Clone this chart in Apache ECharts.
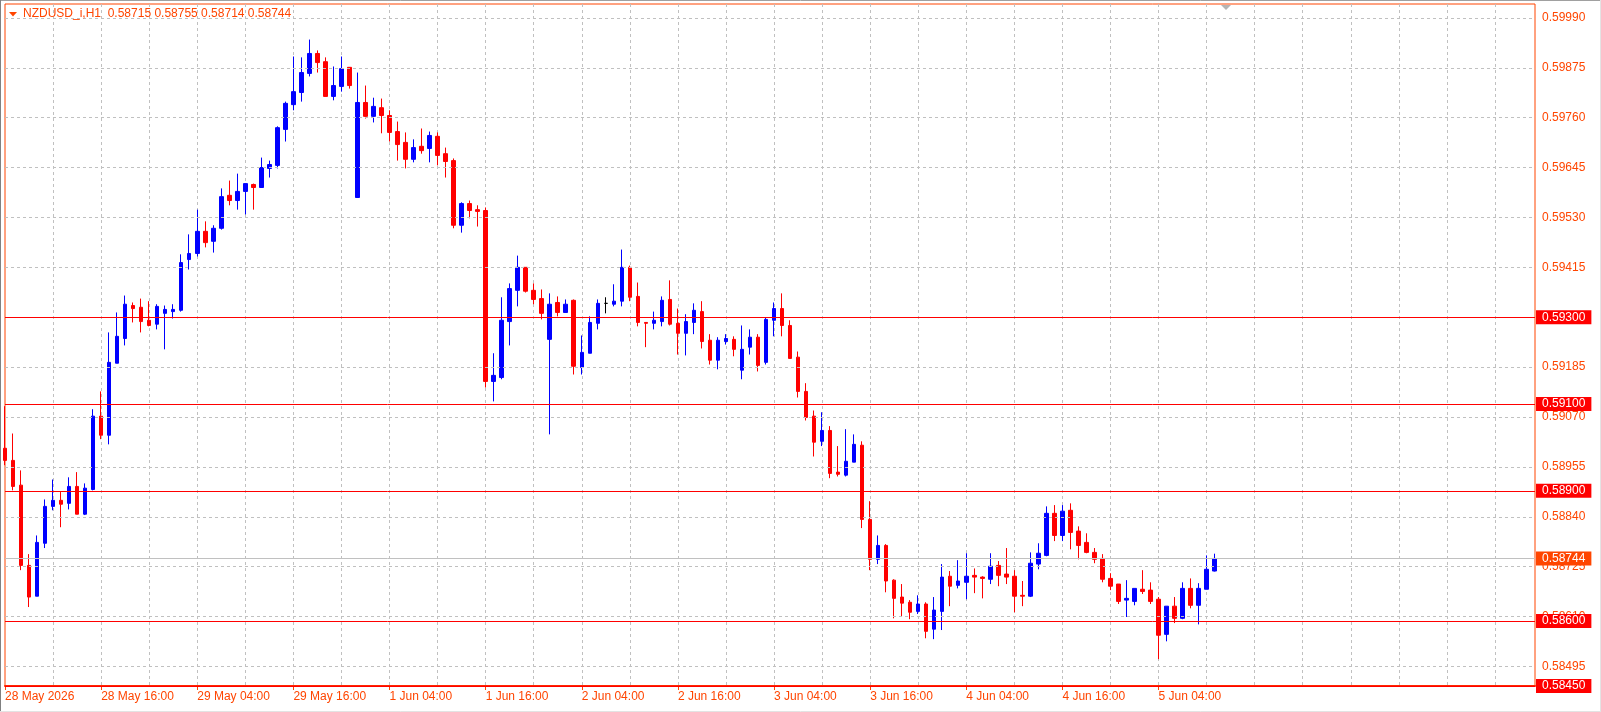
<!DOCTYPE html>
<html>
<head>
<meta charset="utf-8">
<title>NZDUSD_i,H1</title>
<script src="https://cdn.jsdelivr.net/npm/echarts@6/dist/echarts.min.js"></script>
<style>
html, body { margin: 0; padding: 0; background: #fff; }
#chart { width: 1601px; height: 712px; }
</style>
</head>
<body>
<div id="chart"></div>
<script>
// hourly bars, 28 May 2026 04:00 .. 5 Jun 2026 11:00
var opens = [
  0.58998, 0.58970, 0.58913, 0.58728, 0.58657, 0.58779, 0.58864, 0.58878, 0.58871, 0.58910,
  0.58846, 0.58903, 0.59072, 0.59028, 0.59194, 0.59251, 0.59327, 0.59323, 0.59293, 0.59284,
  0.59309, 0.59313, 0.59316, 0.59433, 0.59447, 0.59498, 0.59475, 0.59505, 0.59581, 0.59569,
  0.59590, 0.59606, 0.59599, 0.59643, 0.59650, 0.59733, 0.59790, 0.59818, 0.59862, 0.59908,
  0.59889, 0.59809, 0.59832, 0.59876, 0.59576, 0.59795, 0.59763, 0.59783, 0.59765, 0.59728,
  0.59703, 0.59664, 0.59694, 0.59689, 0.59717, 0.59677, 0.59661, 0.59512, 0.59562, 0.59548,
  0.59546, 0.59152, 0.59161, 0.59290, 0.59362, 0.59415, 0.59362, 0.59343, 0.59249, 0.59334,
  0.59311, 0.59339, 0.59184, 0.59217, 0.59286, 0.59332, 0.59330, 0.59337, 0.59415, 0.59348,
  0.59288, 0.59286, 0.59290, 0.59341, 0.59286, 0.59263, 0.59288, 0.59313, 0.59247, 0.59201,
  0.59244, 0.59249, 0.59178, 0.59231, 0.59254, 0.59196, 0.59293, 0.59320, 0.59281, 0.59208,
  0.59129, 0.59072, 0.59014, 0.59039, 0.58943, 0.58936, 0.58966, 0.59005, 0.58834, 0.58742,
  0.58774, 0.58694, 0.58655, 0.58643, 0.58622, 0.58639, 0.58581, 0.58622, 0.58703, 0.58682,
  0.58689, 0.58705, 0.58701, 0.58696, 0.58728, 0.58708, 0.58703, 0.58659, 0.58657, 0.58731,
  0.58751, 0.58848, 0.58797, 0.58855, 0.58807, 0.58781, 0.58758, 0.58744, 0.58698, 0.58685,
  0.58648, 0.58645, 0.58673, 0.58671, 0.58650, 0.58569, 0.58634, 0.58606, 0.58675, 0.58636,
  0.58673, 0.58715
];
var highs = [
  0.59095, 0.59032, 0.58947, 0.58754, 0.58797, 0.58880, 0.58926, 0.58897, 0.58931, 0.58943,
  0.58917, 0.59088, 0.59129, 0.59265, 0.59311, 0.59350, 0.59334, 0.59343, 0.59337, 0.59330,
  0.59327, 0.59330, 0.59445, 0.59491, 0.59548, 0.59521, 0.59512, 0.59597, 0.59615, 0.59631,
  0.59608, 0.59608, 0.59668, 0.59661, 0.59740, 0.59797, 0.59901, 0.59899, 0.59940, 0.59915,
  0.59899, 0.59878, 0.59901, 0.59876, 0.59864, 0.59834, 0.59806, 0.59804, 0.59777, 0.59751,
  0.59726, 0.59710, 0.59735, 0.59728, 0.59726, 0.59691, 0.59666, 0.59565, 0.59569, 0.59558,
  0.59553, 0.59217, 0.59346, 0.59378, 0.59442, 0.59415, 0.59378, 0.59364, 0.59355, 0.59348,
  0.59341, 0.59341, 0.59258, 0.59302, 0.59341, 0.59346, 0.59376, 0.59456, 0.59419, 0.59380,
  0.59288, 0.59313, 0.59348, 0.59385, 0.59320, 0.59307, 0.59332, 0.59337, 0.59261, 0.59254,
  0.59261, 0.59256, 0.59281, 0.59272, 0.59261, 0.59300, 0.59334, 0.59355, 0.59293, 0.59221,
  0.59148, 0.59085, 0.59081, 0.59049, 0.59003, 0.59042, 0.59030, 0.59014, 0.58876, 0.58797,
  0.58777, 0.58696, 0.58685, 0.58648, 0.58659, 0.58643, 0.58655, 0.58731, 0.58715, 0.58740,
  0.58756, 0.58721, 0.58703, 0.58756, 0.58738, 0.58768, 0.58717, 0.58692, 0.58758, 0.58779,
  0.58864, 0.58867, 0.58867, 0.58871, 0.58818, 0.58802, 0.58768, 0.58754, 0.58710, 0.58685,
  0.58694, 0.58675, 0.58717, 0.58689, 0.58655, 0.58634, 0.58655, 0.58689, 0.58698, 0.58687,
  0.58751, 0.58755
];
var lows = [
  0.58959, 0.58901, 0.58717, 0.58632, 0.58657, 0.58768, 0.58855, 0.58816, 0.58857, 0.58846,
  0.58844, 0.58901, 0.59019, 0.59007, 0.59194, 0.59235, 0.59288, 0.59265, 0.59279, 0.59272,
  0.59226, 0.59297, 0.59313, 0.59410, 0.59440, 0.59461, 0.59449, 0.59502, 0.59558, 0.59548,
  0.59537, 0.59548, 0.59599, 0.59622, 0.59643, 0.59705, 0.59777, 0.59797, 0.59855, 0.59864,
  0.59809, 0.59800, 0.59820, 0.59827, 0.59576, 0.59758, 0.59749, 0.59724, 0.59705, 0.59661,
  0.59643, 0.59657, 0.59677, 0.59657, 0.59650, 0.59622, 0.59505, 0.59495, 0.59528, 0.59509,
  0.59138, 0.59106, 0.59157, 0.59235, 0.59325, 0.59357, 0.59330, 0.59295, 0.59030, 0.59302,
  0.59311, 0.59168, 0.59168, 0.59217, 0.59272, 0.59309, 0.59325, 0.59325, 0.59337, 0.59279,
  0.59231, 0.59272, 0.59279, 0.59281, 0.59214, 0.59212, 0.59261, 0.59228, 0.59191, 0.59180,
  0.59237, 0.59210, 0.59157, 0.59214, 0.59175, 0.59191, 0.59256, 0.59256, 0.59205, 0.59115,
  0.59062, 0.58979, 0.59003, 0.58929, 0.58933, 0.58933, 0.58966, 0.58814, 0.58717, 0.58731,
  0.58666, 0.58606, 0.58609, 0.58604, 0.58616, 0.58560, 0.58558, 0.58579, 0.58634, 0.58675,
  0.58650, 0.58664, 0.58652, 0.58685, 0.58680, 0.58685, 0.58620, 0.58634, 0.58655, 0.58719,
  0.58749, 0.58784, 0.58784, 0.58765, 0.58742, 0.58756, 0.58733, 0.58689, 0.58671, 0.58639,
  0.58609, 0.58636, 0.58662, 0.58639, 0.58512, 0.58553, 0.58595, 0.58604, 0.58629, 0.58592,
  0.58673, 0.58714
];
var closes = [
  0.58970, 0.58910, 0.58728, 0.58655, 0.58781, 0.58864, 0.58878, 0.58869, 0.58910, 0.58846,
  0.58906, 0.59072, 0.59028, 0.59196, 0.59256, 0.59330, 0.59320, 0.59290, 0.59281, 0.59325,
  0.59318, 0.59318, 0.59426, 0.59447, 0.59498, 0.59472, 0.59505, 0.59578, 0.59569, 0.59590,
  0.59608, 0.59599, 0.59645, 0.59652, 0.59737, 0.59793, 0.59820, 0.59864, 0.59908, 0.59887,
  0.59809, 0.59834, 0.59873, 0.59834, 0.59795, 0.59763, 0.59786, 0.59765, 0.59726, 0.59698,
  0.59664, 0.59691, 0.59684, 0.59719, 0.59673, 0.59659, 0.59512, 0.59562, 0.59546, 0.59544,
  0.59152, 0.59166, 0.59293, 0.59366, 0.59415, 0.59360, 0.59341, 0.59309, 0.59330, 0.59311,
  0.59330, 0.59187, 0.59219, 0.59288, 0.59332, 0.59332, 0.59337, 0.59415, 0.59346, 0.59288,
  0.59286, 0.59293, 0.59339, 0.59284, 0.59263, 0.59290, 0.59316, 0.59244, 0.59201, 0.59247,
  0.59251, 0.59226, 0.59226, 0.59254, 0.59189, 0.59295, 0.59320, 0.59281, 0.59205, 0.59129,
  0.59069, 0.59012, 0.59039, 0.58940, 0.58938, 0.58968, 0.59007, 0.58834, 0.58742, 0.58774,
  0.58692, 0.58652, 0.58641, 0.58620, 0.58639, 0.58576, 0.58625, 0.58701, 0.58680, 0.58692,
  0.58703, 0.58701, 0.58698, 0.58726, 0.58705, 0.58701, 0.58657, 0.58657, 0.58733, 0.58756,
  0.58848, 0.58797, 0.58853, 0.58804, 0.58774, 0.58758, 0.58742, 0.58696, 0.58680, 0.58645,
  0.58652, 0.58675, 0.58668, 0.58645, 0.58567, 0.58634, 0.58606, 0.58675, 0.58636, 0.58675,
  0.58719, 0.58744
];

var tickLabels = [
  '28 May 2026', '28 May 16:00', '29 May 04:00', '29 May 16:00', '1 Jun 04:00',
  '1 Jun 16:00', '2 Jun 04:00', '2 Jun 16:00', '3 Jun 04:00', '3 Jun 16:00',
  '4 Jun 04:00', '4 Jun 16:00', '5 Jun 04:00'
];
var priceTicks = [
  0.58495, 0.58610, 0.58725, 0.58840, 0.58955, 0.59070, 0.59185,
  0.59300, 0.59415, 0.59530, 0.59645, 0.59760, 0.59875, 0.59990
];
var levels = [0.59300, 0.59100, 0.58900, 0.58600, 0.58450];

var symbolName = 'NZDUSD_i,H1';
var slotCount = 192;          // visible hourly slots incl. empty right shift
var priceMin = 0.58450;
var priceMax = 0.60022;

var axisColor = '#FF4500';
var fontFamily = '"Liberation Sans", Arial, sans-serif';

// hourly categories, weekend skipped (MT4 style)
var months = ['Jan','Feb','Mar','Apr','May','Jun','Jul','Aug','Sep','Oct','Nov','Dec'];
var categories = [];
var t = Date.UTC(2026, 4, 28, 4);
while (categories.length < slotCount) {
  var d = new Date(t);
  var wd = d.getUTCDay();
  if (wd !== 0 && wd !== 6) {
    var hh = ('0' + d.getUTCHours()).slice(-2);
    categories.push(d.getUTCDate() + ' ' + months[d.getUTCMonth()] + ' ' + hh + ':00');
  }
  t += 3600000;
}

var candleData = [];
for (var i = 0; i < opens.length; i++) {
  var item = { value: [opens[i], closes[i], lows[i], highs[i]] };
  if (opens[i] === closes[i]) {
    item.itemStyle = { borderColor: '#000000', borderColor0: '#000000' };
  }
  candleData.push(item);
}

var last = opens.length - 1;
var header = symbolName + '  ' + opens[last].toFixed(5) + ' ' + highs[last].toFixed(5) +
  ' ' + lows[last].toFixed(5) + ' ' + closes[last].toFixed(5);

function priceLabel(v, bg) {
  var lab = {
    show: true, position: 'end', formatter: v.toFixed(5), fontSize: 12, fontFamily: fontFamily,
    distance: 1, padding: [1, 6, 1, 6], lineHeight: 12
  };
  if (bg) { lab.color = '#FFFFFF'; lab.backgroundColor = bg; }
  else { lab.color = axisColor; }
  return lab;
}

var gridMarks = priceTicks.map(function (v) {
  return { yAxis: v, lineStyle: { color: '#C0C0C0', width: 1, type: [3, 3] }, label: priceLabel(v) };
});
var levelMarks = levels.map(function (v) {
  return { yAxis: v, lineStyle: { color: '#FF0000', width: 1, type: 'solid' }, label: priceLabel(v, '#FF0000') };
});
var priceMark = {
  yAxis: closes[last], lineStyle: { color: '#C0C0C0', width: 1, type: 'solid' },
  label: priceLabel(closes[last], '#FF4500')
};

var chart = echarts.init(document.getElementById('chart'));
chart.setOption({
  animation: false,
  backgroundColor: '#FFFFFF',
  title: {
    text: header, left: 23, top: 8, padding: 0,
    textStyle: { color: axisColor, fontSize: 12, fontWeight: 'normal', fontFamily: fontFamily }
  },
  graphic: [
    { type: 'polygon', shape: { points: [[9, 12], [17, 12], [13, 16.5]] }, style: { fill: axisColor }, silent: true },
    { type: 'polygon', shape: { points: [[1221, 5], [1231, 5], [1226, 10]] }, style: { fill: '#B4B4B4' }, silent: true },
    { type: 'line', shape: { x1: 0, y1: 0.5, x2: 1601, y2: 0.5 }, style: { stroke: '#A0A0A0', lineWidth: 1 }, silent: true },
    { type: 'line', shape: { x1: 0.5, y1: 0, x2: 0.5, y2: 712 }, style: { stroke: '#808080', lineWidth: 1 }, silent: true },
    { type: 'line', shape: { x1: 0, y1: 711.5, x2: 1601, y2: 711.5 }, style: { stroke: '#E3E3E3', lineWidth: 1 }, silent: true },
    { type: 'line', shape: { x1: 1600.5, y1: 0, x2: 1600.5, y2: 712 }, style: { stroke: '#E3E3E3', lineWidth: 1 }, silent: true }
  ],
  grid: {
    left: 5, right: 66, top: 4, bottom: 26,
    show: true, borderColor: axisColor, borderWidth: 1, backgroundColor: 'transparent'
  },
  xAxis: {
    type: 'category',
    data: categories,
    boundaryGap: false,
    axisLine: { show: true, lineStyle: { color: '#FF2800', width: 2 } },
    axisTick: {
      show: true, length: 4, lineStyle: { color: axisColor },
      interval: function (index) { return index % 12 === 0 && index / 12 < tickLabels.length; }
    },
    axisLabel: {
      color: axisColor, fontSize: 12, fontFamily: fontFamily, align: 'left', margin: 5,
      interval: function (index) { return index % 12 === 0 && index / 12 < tickLabels.length; },
      formatter: function (value, index) { return tickLabels[index / 12] || ''; }
    },
    splitLine: {
      show: true, lineStyle: { color: '#C0C0C0', width: 1, type: [3, 3] },
      interval: function (index) { return index > 0 && index % 6 === 0; }
    }
  },
  yAxis: {
    type: 'value',
    position: 'right',
    min: priceMin,
    max: priceMax,
    axisLine: { show: false },
    axisTick: { show: false },
    axisLabel: { show: false },
    splitLine: { show: false }
  },
  series: [
    {
      type: 'line',
      name: 'levels',
      data: [],
      z: 1,
      silent: true,
      markLine: {
        silent: true,
        precision: 5,
        symbol: ['none', 'none'],
        animation: false,
        data: gridMarks.concat(levelMarks, [priceMark])
      }
    },
    {
      type: 'candlestick',
      z: 3,
      data: candleData,
      barWidth: 4,
      itemStyle: {
        color: '#0000FF', color0: '#FF0000',
        borderColor: '#0000FF', borderColor0: '#FF0000', borderWidth: 1
      }
    }
  ]
});
</script>
</body>
</html>
